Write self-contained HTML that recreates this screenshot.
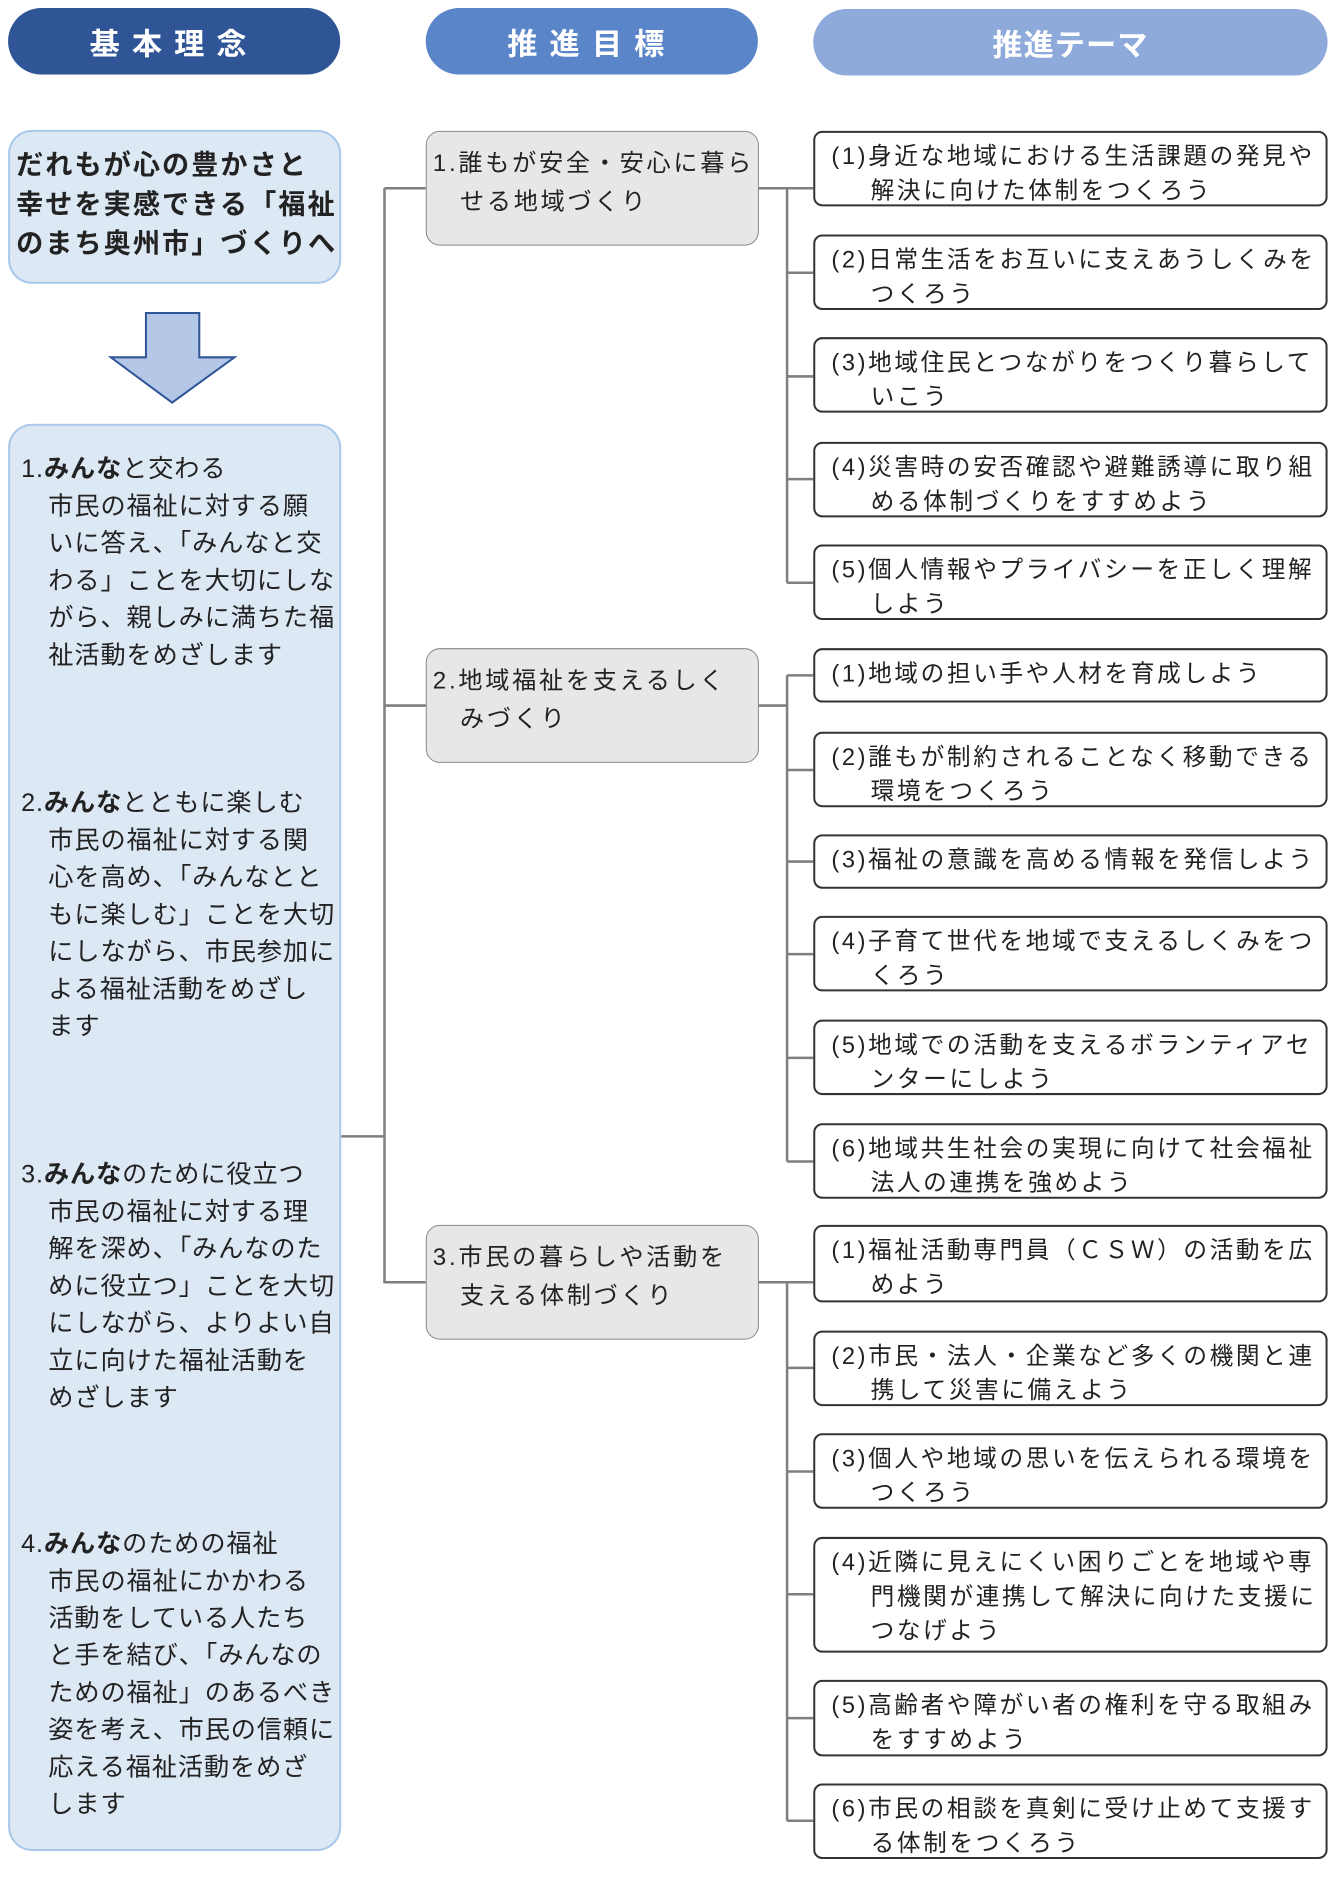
<!DOCTYPE html>
<html><head><meta charset="utf-8"><style>
body{margin:0;width:1335px;height:1865px;background:#fff;position:relative;overflow:hidden;font-family:"Liberation Sans","Noto Sans CJK JP",sans-serif;color:#222}
#w{position:absolute;left:0;top:0;width:1335px;height:1865px;transform:scale(1.0065);transform-origin:0 0}
.a{position:absolute;box-sizing:border-box}
.hd{color:#fff;font-weight:bold;font-size:30px;display:flex;align-items:center;justify-content:center;border-radius:34px}
.th{background:#fff;border:2px solid #333;border-radius:9px;font-size:23.5px;letter-spacing:2.6px;line-height:34px;padding:6px 0 0 16px;white-space:nowrap}
.th .i{padding-left:39px}
.g{background:#e7e7e7;border:1.5px solid #8a8a8a;border-radius:14px;font-size:24px;letter-spacing:2.7px;line-height:38px;padding:13px 0 0 6px;white-space:nowrap}
.g .i{padding-left:27px}
.lb{background:#dde8f5;border:2px solid #a9c9ea;border-radius:24px}
.lt{font-size:25px;letter-spacing:0.9px;line-height:37px;white-space:nowrap}
.lt .i{padding-left:27px}
</style></head><body><div id="w">
<div class="a hd" style="left:8px;top:8px;width:330px;height:66px;background:#2f5597;letter-spacing:12px">基本理念</div>
<div class="a hd" style="left:423px;top:8px;width:330px;height:66px;background:#5b85c9;letter-spacing:12px">推進目標</div>
<div class="a hd" style="left:808px;top:9px;width:511px;height:66px;background:#8eaadb;letter-spacing:1px">推進テーマ</div>

<div class="a lb" style="left:8px;top:129px;width:331px;height:153px;font-weight:bold;font-size:27px;letter-spacing:2px;line-height:39px;padding:14px 0 0 6px;white-space:nowrap">だれもが心の豊かさと<br>幸せを実感できる「福祉<br>のまち奥州市」づくりへ</div>

<svg class="a" style="left:0;top:0" width="1335" height="1865">
<polygon points="145,311 198,311 198,355 233,355 171,400 110,355 145,355" fill="#b4c7e7" stroke="#2f5597" stroke-width="2"/>
<g stroke="#7f7f7f" stroke-width="2.5" fill="none">
<path d="M339,1129 H382 M382,187 V1275 M382,187 H423 M382,701 H423 M382,1274 H423"/>
<path d="M753,187 H782 M782,187 V579 M782,187H808 M782,271H808 M782,374H808 M782,476H808 M782,579H808"/>
<path d="M753,701 H782 M782,671 V1154 M782,671H808 M782,765H808 M782,856H808 M782,948H808 M782,1051H808 M782,1154H808"/>
<path d="M753,1274 H782 M782,1274 V1809 M782,1274H808 M782,1359H808 M782,1462H808 M782,1584H808 M782,1707H808 M782,1809H808"/>
</g>
</svg>

<div class="a lb lt" style="left:8px;top:421px;width:331px;height:1418px;padding:25px 0 0 11px">
<div style="height:332px">1.<b>みんな</b>と交わる<div class="i">市民の福祉に対する願<br>いに答え、「みんなと交<br>わる」ことを大切にしな<br>がら、親しみに満ちた福<br>祉活動をめざします</div></div>
<div style="height:369px">2.<b>みんな</b>とともに楽しむ<div class="i">市民の福祉に対する関<br>心を高め、「みんなとと<br>もに楽しむ」ことを大切<br>にしながら、市民参加に<br>よる福祉活動をめざし<br>ます</div></div>
<div style="height:367px">3.<b>みんな</b>のために役立つ<div class="i">市民の福祉に対する理<br>解を深め、「みんなのた<br>めに役立つ」ことを大切<br>にしながら、よりよい自<br>立に向けた福祉活動を<br>めざします</div></div>
<div>4.<b>みんな</b>のための福祉<div class="i">市民の福祉にかかわる<br>活動をしている人たち<br>と手を結び、「みんなの<br>ための福祉」のあるべき<br>姿を考え、市民の信頼に<br>応える福祉活動をめざ<br>します</div></div>
</div>

<div class="a g" style="left:423px;top:130px;width:331px;height:114px">1.誰もが安全・安心に暮ら<div class="i">せる地域づくり</div></div>
<div class="a g" style="left:423px;top:644px;width:331px;height:114px">2.地域福祉を支えるしく<div class="i">みづくり</div></div>
<div class="a g" style="left:423px;top:1217px;width:331px;height:114px">3.市民の暮らしや活動を<div class="i">支える体制づくり</div></div>

<div class="a th" style="left:808px;top:130px;width:511px;height:75px">(1)身近な地域における生活課題の発見や<div class="i">解決に向けた体制をつくろう</div></div>
<div class="a th" style="left:808px;top:233px;width:511px;height:75px">(2)日常生活をお互いに支えあうしくみを<div class="i">つくろう</div></div>
<div class="a th" style="left:808px;top:335px;width:511px;height:75px">(3)地域住民とつながりをつくり暮らして<div class="i">いこう</div></div>
<div class="a th" style="left:808px;top:439px;width:511px;height:75px">(4)災害時の安否確認や避難誘導に取り組<div class="i">める体制づくりをすすめよう</div></div>
<div class="a th" style="left:808px;top:541px;width:511px;height:75px">(5)個人情報やプライバシーを正しく理解<div class="i">しよう</div></div>

<div class="a th" style="left:808px;top:644px;width:511px;height:54px">(1)地域の担い手や人材を育成しよう</div>
<div class="a th" style="left:808px;top:727px;width:511px;height:75px">(2)誰もが制約されることなく移動できる<div class="i">環境をつくろう</div></div>
<div class="a th" style="left:808px;top:829px;width:511px;height:54px">(3)福祉の意識を高める情報を発信しよう</div>
<div class="a th" style="left:808px;top:910px;width:511px;height:75px">(4)子育て世代を地域で支えるしくみをつ<div class="i">くろう</div></div>
<div class="a th" style="left:808px;top:1013px;width:511px;height:75px">(5)地域での活動を支えるボランティアセ<div class="i">ンターにしよう</div></div>
<div class="a th" style="left:808px;top:1116px;width:511px;height:75px">(6)地域共生社会の実現に向けて社会福祉<div class="i">法人の連携を強めよう</div></div>

<div class="a th" style="left:808px;top:1217px;width:511px;height:77px">(1)福祉活動専門員（ＣＳＷ）の活動を広<div class="i">めよう</div></div>
<div class="a th" style="left:808px;top:1322px;width:511px;height:75px">(2)市民・法人・企業など多くの機関と連<div class="i">携して災害に備えよう</div></div>
<div class="a th" style="left:808px;top:1424px;width:511px;height:75px">(3)個人や地域の思いを伝えられる環境を<div class="i">つくろう</div></div>
<div class="a th" style="left:808px;top:1527px;width:511px;height:115px">(4)近隣に見えにくい困りごとを地域や専<div class="i">門機関が連携して解決に向けた支援に<br>つなげよう</div></div>
<div class="a th" style="left:808px;top:1669px;width:511px;height:76px">(5)高齢者や障がい者の権利を守る取組み<div class="i">をすすめよう</div></div>
<div class="a th" style="left:808px;top:1772px;width:511px;height:75px">(6)市民の相談を真剣に受け止めて支援す<div class="i">る体制をつくろう</div></div>
</div></body></html>
